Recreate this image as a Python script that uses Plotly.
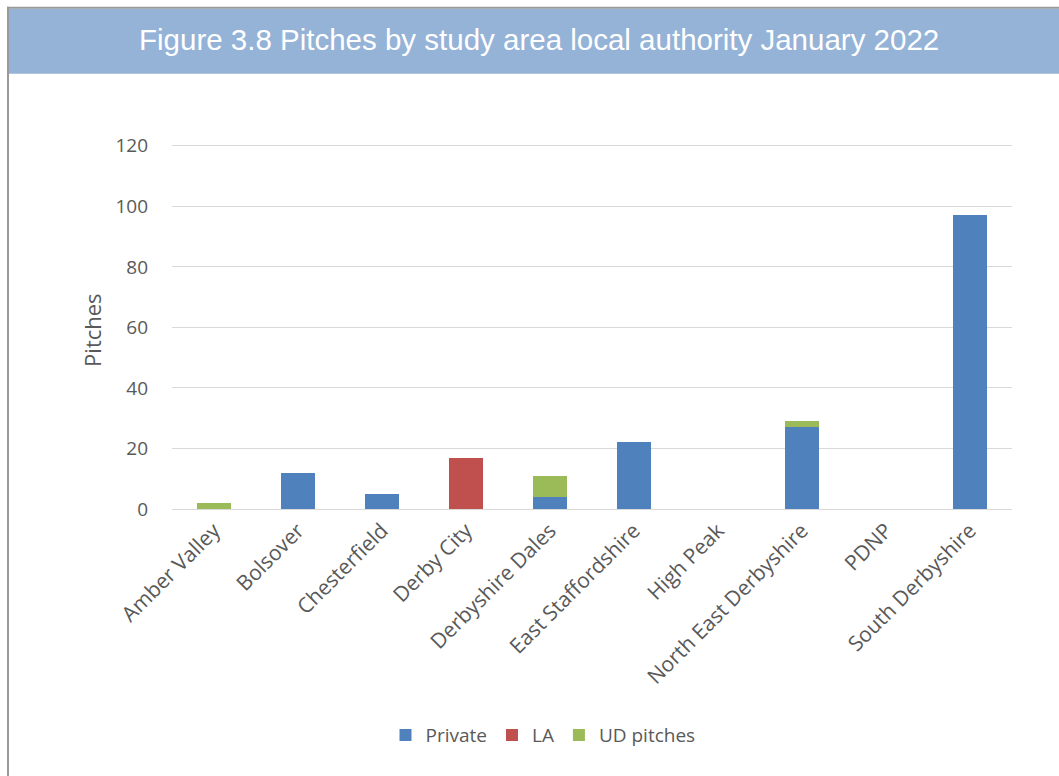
import plotly.graph_objects as go

categories = ["Amber Valley", "Bolsover", "Chesterfield", "Derby City", "Derbyshire Dales",
              "East Staffordshire", "High Peak", "North East Derbyshire", "PDNP", "South Derbyshire"]
private = [0, 12, 5, 0, 4, 22, 0, 27, 0, 97]
la = [0, 0, 0, 17, 0, 0, 0, 0, 0, 0]
ud_pitches = [2, 0, 0, 0, 7, 0, 0, 2, 0, 0]
y_ticks = [0, 20, 40, 60, 80, 100, 120]

W, H = 1059, 776
YMAX = 120.6
L, R, B = 172, 47, 267
ph = 363 * YMAX / 120
T = H - B - ph
pw = W - L - R


def px(x):
    return (x - L) / pw


def py(y):
    return (H - B - y) / ph


fig = go.Figure()
for name, vals, col in [("Private", private, "#4F81BD"), ("LA", la, "#C0504D"),
                        ("UD pitches", ud_pitches, "#9BBB59")]:
    fig.add_trace(go.Bar(x=categories, y=vals, name=name,
                         marker=dict(color=col, line=dict(width=0))))

fig.update_layout(
    width=W, height=H,
    margin=dict(l=L, r=R, t=T, b=B),
    barmode="stack", bargap=0.6,
    plot_bgcolor="white", paper_bgcolor="white",
    font=dict(family="Open Sans", color="#595959"),
    showlegend=True,
    legend=dict(orientation="h", x=px(543), xanchor="center", y=py(735), yanchor="middle",
                font=dict(size=19, color="#595959"), traceorder="normal",
                itemwidth=30, tracegroupgap=0),
    xaxis=dict(tickangle=-45, tickfont=dict(size=21, color="#595959"),
               showline=True, linecolor="#D9D9D9", linewidth=1, ticks=""),
    yaxis=dict(range=[0, YMAX], tickvals=y_ticks, tickfont=dict(size=19, color="#595959"),
               gridcolor="#D9D9D9", gridwidth=1, zeroline=False, showline=False,
               ticklabelstandoff=23),
    shapes=[
        dict(type="rect", xref="paper", yref="paper", x0=px(9), x1=px(W + 5), y0=py(74), y1=py(9),
             fillcolor="#95B3D7", line=dict(width=0), layer="below"),
        dict(type="rect", xref="paper", yref="paper", x0=px(7), x1=px(W + 5), y0=py(9), y1=py(7),
             fillcolor="#999999", line=dict(width=0), layer="below"),
        dict(type="rect", xref="paper", yref="paper", x0=px(7), x1=px(9), y0=py(H + 5), y1=py(7),
             fillcolor="#999999", line=dict(width=0), layer="below"),
    ],
    annotations=[
        dict(text="Figure 3.8 Pitches by study area local authority January 2022",
             xref="paper", yref="paper", x=px(539), y=py(40), xanchor="center", yanchor="middle",
             showarrow=False, font=dict(family="Liberation Sans, Arial", size=29.5, color="white")),
        dict(text="Pitches", xref="paper", yref="paper", x=px(92), y=py(330), textangle=-90,
             xanchor="center", yanchor="middle", showarrow=False,
             font=dict(size=22, color="#595959")),
    ],
)

fig.write_html("out.html")
